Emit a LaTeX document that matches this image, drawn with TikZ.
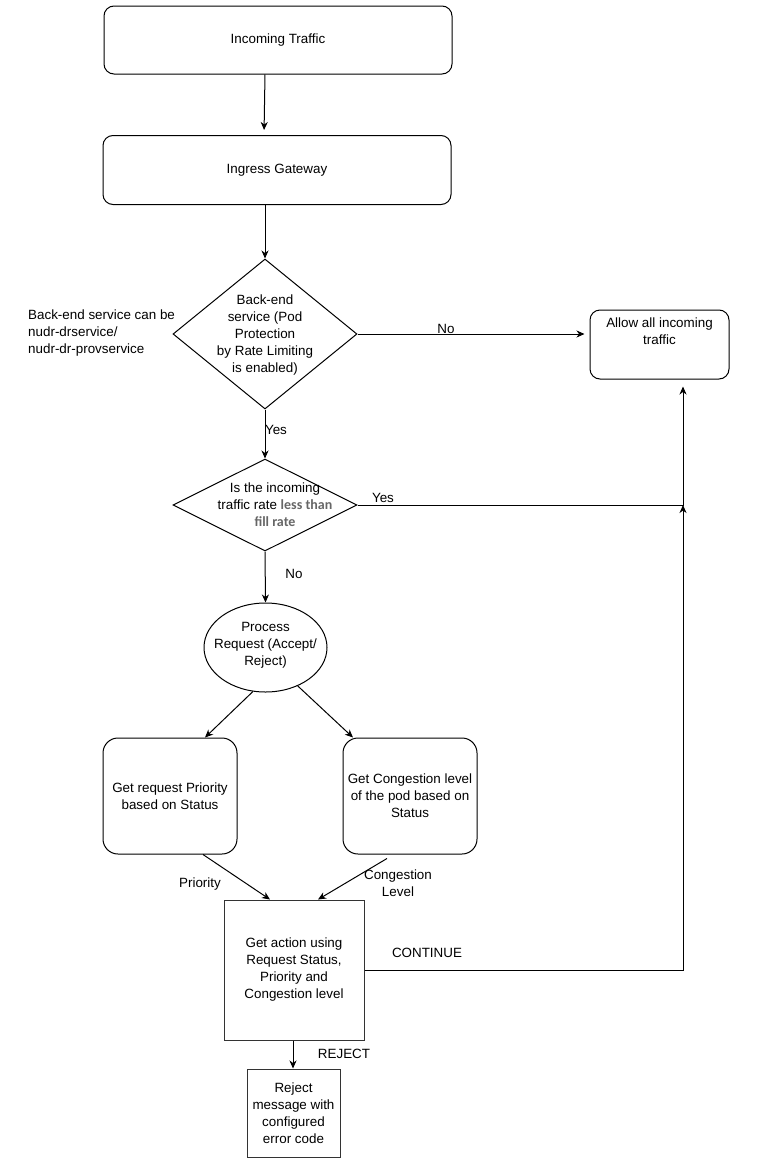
\documentclass[tikz,border=0pt]{standalone}
\usepackage{fontspec}
\setmainfont{Liberation Sans}
\newfontfamily\calib{Carlito}
\usetikzlibrary{shapes.geometric, arrows.meta, positioning}

\begin{document}
\begin{tikzpicture}[x=1pt, y=-1pt,
	every node/.style={font=\fontsize{13.4}{17}\selectfont},
	rbox/.style={rectangle, rounded corners=10pt, draw=black, line width=1pt, fill=white, align=center},
	sbox/.style={rectangle, draw=black!80, line width=1pt, fill=white, align=center},
	dia/.style={diamond, draw=black, line width=1pt, inner sep=0pt},
	txt/.style={align=center, inner sep=0pt},
	arr/.style={-{Stealth[length=8pt, width=7pt, inset=2.5pt]}, line width=1pt}]
	\useasboundingbox (0,0) rectangle (764,1162);
	\def\mx{265}
	\def\jx{683}
	\node[rbox, minimum width=348pt, minimum height=68pt] (inc) at (278,40) {Incoming Traffic};
	\node[rbox, minimum width=348pt, minimum height=69pt] (ing) at (277,170) {Ingress Gateway};
	\node[dia, minimum width=184pt, minimum height=150pt] (dec1) at (\mx,334) {};
	\node[txt] (dec1t) at (\mx,335) {Back-end\\service (Pod\\Protection\\by Rate Limiting\\is enabled)};
	\node[align=left, anchor=west, inner sep=0pt] (note) at (28,333) {Back-end service can be\\nudr-drservice/\\nudr-dr-provservice};
	\node[rbox, minimum width=139pt, minimum height=69pt] (allow) at (659.5,344.5) {};
	\node[txt, below=8pt of allow.north] (allowt) {Allow all incoming\\traffic};
	\node[dia, minimum width=184pt, minimum height=92pt] (dec2) at (\mx,505) {};
	\node[txt] (dec2t) at (275,505) {Is the incoming\\traffic rate {\calib\bfseries\fontsize{14}{17}\selectfont\color{black!60}less than}\\{\calib\bfseries\fontsize{14}{17}\selectfont\color{black!60}fill rate}};
	\node[ellipse, draw=black, line width=1pt, minimum width=123pt, minimum height=89pt] (proc) at (265.5,647.5) {};
	\node[txt] (proct) at (265.5,645) {Process\\Request (Accept/\\Reject)};
	\node[rbox, rounded corners=15pt, minimum width=134pt, minimum height=116pt] (prio) at (170,796) {Get request Priority\\based on Status};
	\node[rbox, rounded corners=15pt, minimum width=134pt, minimum height=116pt] (cong) at (410,796) {Get Congestion level\\of the pod based on\\Status};
	\node[sbox, minimum width=140pt, minimum height=140pt] (act) at (294,970) {Get action using\\Request Status,\\Priority and\\Congestion level};
	\node[sbox, minimum width=93pt, minimum height=88pt] (rej) at (293.5,1113) {Reject\\message with\\configured\\error code};
	\coordinate (j1) at (\jx,505);
	\coordinate (j2) at (\jx,970);
%%%%
	\draw[arr, shorten >=5pt] ([xshift=-13pt]inc.south) -- ([xshift=-13pt]ing.north);
	\draw[arr] ([xshift=-12pt]ing.south) -- (dec1.north);
	\draw[arr, shorten >=5pt] (dec1.east) -- (dec1.east -| allow.west);
	\draw[arr] (dec1.south) -- (dec2.north);
	\draw[arr] (dec2.south) -- (proc.north);
	\draw[arr, shorten >=7pt] (dec2.east) -- (j1) -- (allow.south -| j1);
	\draw[arr] (proc.254) -- ([xshift=35pt]prio.north);
	\draw[arr] (proc.310) -- ([xshift=-57pt]cong.north);
	\draw[arr] ([xshift=33pt]prio.south) -- ([xshift=-24pt]act.north);
	\draw[arr] ([xshift=-23pt, yshift=-4pt]cong.south) -- ([xshift=24pt]act.north);
	\draw[arr] (act.east) -- (j2) -- (j1);
	\draw[arr] ([xshift=-1pt]act.south) -- ([xshift=-1pt]act.south |- rej.north);
%%%%
	\node[txt] (lno1) at (446,329) {No};
	\node[txt] (lyes1) at (276,430) {Yes};
	\node[txt] (lyes2) at (383,498) {Yes};
	\node[txt] (lno2) at (294,574) {No};
	\node[txt] (lprio) at (200,884) {Priority};
	\node[txt] (lcong) at (398,883) {Congestion\\Level};
	\node[txt] (lcont) at (427,953) {CONTINUE};
	\node[txt] (lrej) at (344,1054) {REJECT};
\end{tikzpicture}
\end{document}
